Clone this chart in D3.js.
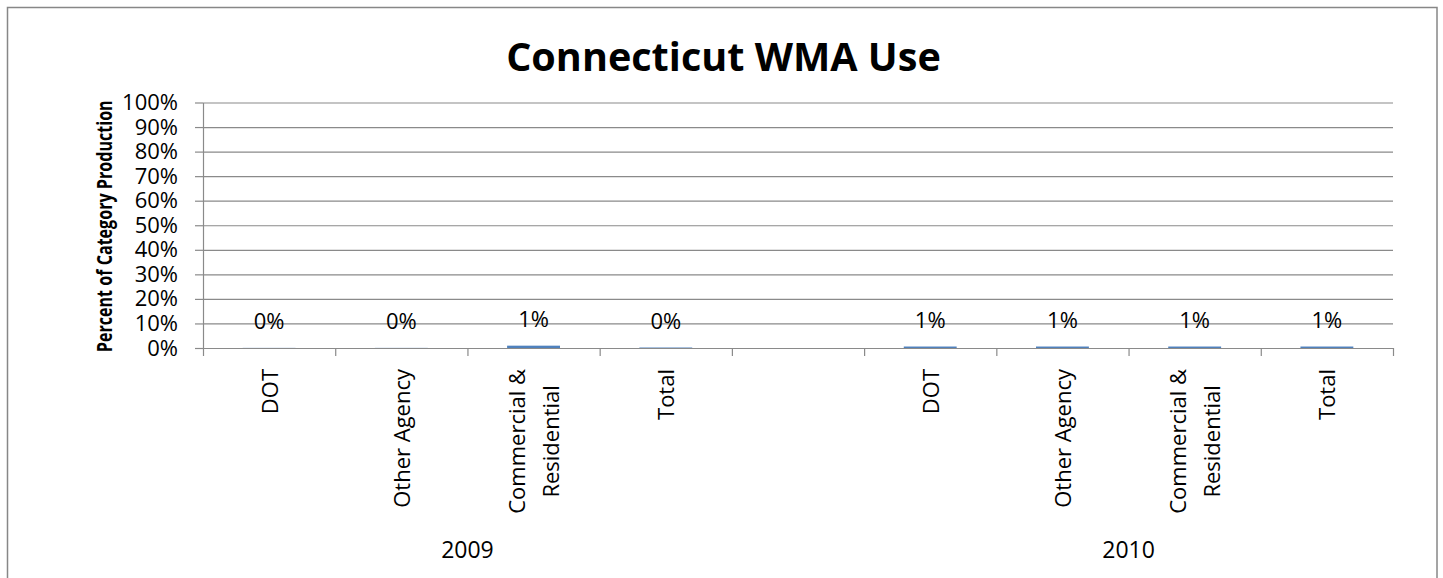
<!DOCTYPE html>
<html><head><meta charset="utf-8">
<script src="https://cdn.jsdelivr.net/npm/d3@7"></script>
<style>html,body{margin:0;padding:0;background:#fff;} svg{display:block;}</style>
</head><body><svg id="chart" width="1443" height="578"></svg>
<script>
// ---------- data ----------
const chartTitle = "Connecticut WMA Use";
const yAxisTitle = "Percent of Category Production";
const years = ["2009", "2010"];
const categories = ["DOT", "Other Agency", "Commercial &\nResidential", "Total"];
const values2009 = [0.0005, 0.0005, 0.0095, 0.002];
const values2010 = [0.006, 0.006, 0.006, 0.006];
const yTicks = [0, 0.1, 0.2, 0.3, 0.4, 0.5, 0.6, 0.7, 0.8, 0.9, 1.0];

// ---------- layout ----------
const W = 1443, H = 578;
const L = 203, R = 1393, T = 102.5, B = 348;
const FONT = "'Open Sans', Lato, 'DejaVu Sans', sans-serif";
const FS = 22;
const GRID = "#8a8a8a";
const BAR = "#4f81bd";

const svg = d3.select("#chart");

// slots: 4 categories for 2009, one empty slot, 4 for 2010
const series = [values2009, values2010];
const slots = [];
years.forEach((yr, gi) => {
  categories.forEach((c, ci) => slots.push({key: yr + "|" + c, year: yr, cat: c, value: series[gi][ci]}));
  if (gi < years.length - 1) slots.push({key: "gap" + gi, year: null, cat: null, value: null});
});

const x = d3.scaleBand().domain(slots.map(d => d.key)).range([L, R]).paddingInner(0).paddingOuter(0);
const xi = d3.scaleLinear().domain([0, slots.length]).range([L, R]);
const y = d3.scaleLinear().domain([0, 1]).range([B, T]);
const pct = d3.format(".0%");

// outer border
svg.append("rect").attr("x", 7.5).attr("y", 7.5).attr("width", 1429.5).attr("height", 580)
  .attr("fill", "#fff").attr("stroke", "#878787").attr("stroke-width", 1.5);

// gridlines
const grid = svg.append("g").attr("transform", `translate(${L},0)`)
  .call(d3.axisLeft(y).tickValues(yTicks.filter(v => v > 0)).tickSize(-(R - L)).tickFormat(""));
grid.select(".domain").remove();
grid.selectAll("line").attr("stroke", GRID).attr("stroke-width", 1.2);

// y axis with outside ticks
const ya = svg.append("g").attr("transform", `translate(${L},0)`)
  .call(d3.axisLeft(y).tickValues(yTicks).tickSizeInner(8).tickSizeOuter(0).tickFormat(""));
ya.select(".domain").attr("stroke", GRID).attr("stroke-width", 1.2);
ya.selectAll("line").attr("stroke", GRID).attr("stroke-width", 1.2);

// y tick labels
svg.append("g").selectAll("text").data(yTicks).join("text")
  .attr("x", 178).attr("y", d => y(d) + 7.5)
  .attr("text-anchor", "end").attr("font-family", FONT).attr("font-size", FS).attr("fill", "#000")
  .text(d => pct(d));

// bars
const bw = x.bandwidth() * 0.4;
svg.append("g").selectAll("rect").data(slots.filter(d => d.value !== null)).join("rect")
  .attr("x", d => x(d.key) + (x.bandwidth() - bw) / 2)
  .attr("y", d => y(d.value))
  .attr("width", bw)
  .attr("height", d => y(0) - y(d.value))
  .attr("fill", BAR);

// x axis
const xa = svg.append("g").attr("transform", `translate(0,${B})`)
  .call(d3.axisBottom(xi).tickValues(d3.range(slots.length + 1)).tickSizeInner(8).tickSizeOuter(0).tickFormat(""));
xa.select(".domain").attr("stroke", GRID).attr("stroke-width", 1.2);
xa.selectAll("line").attr("stroke", GRID).attr("stroke-width", 1.2);

// data labels
svg.append("g").selectAll("text").data(slots.filter(d => d.value !== null)).join("text")
  .attr("x", d => x(d.key) + x.bandwidth() / 2).attr("y", d => y(d.value) - 19)
  .attr("text-anchor", "middle").attr("font-family", FONT).attr("font-size", FS).attr("fill", "#000")
  .text(d => pct(d.value));

// category labels (rotated, possibly multi-line, block end at y=369)
const catG = svg.append("g");
slots.filter(d => d.cat !== null).forEach(d => {
  const lines = d.cat.split("\n");
  const cx = x(d.key) + x.bandwidth() / 2;
  const tmp = lines.map(l => catG.append("text").attr("font-family", FONT).attr("font-size", FS).text(l));
  const maxLen = d3.max(tmp, t => t.node().getComputedTextLength());
  const yc = 369 + maxLen / 2;
  tmp.forEach((t, i) => {
    const bx = cx + 8.5 + (i - (lines.length - 1) / 2) * 33.4;
    t.attr("transform", `translate(${bx},${yc}) rotate(-90)`)
     .attr("text-anchor", "middle").attr("fill", "#000");
  });
});

// year group labels
years.forEach(yr => {
  const keys = slots.filter(d => d.year === yr).map(d => d.key);
  const x0 = x(keys[0]), x1 = x(keys[keys.length - 1]) + x.bandwidth();
  svg.append("text").attr("x", (x0 + x1) / 2).attr("y", 558)
    .attr("text-anchor", "middle").attr("font-family", FONT).attr("font-size", 23).attr("fill", "#000")
    .text(yr);
});

// y axis title (condensed bold, like the original)
const yt = svg.append("text")
  .attr("text-anchor", "middle").attr("font-family", FONT).attr("font-weight", "bold")
  .attr("font-size", 20.5).attr("fill", "#000").text(yAxisTitle);
const ytLen = yt.node().getComputedTextLength();
const ytK = 252 / ytLen;
yt.attr("transform", `translate(112,${(T + B) / 2 + 1}) rotate(-90) scale(${ytK},1)`);

// chart title
svg.append("text").attr("x", 723.5).attr("y", 71)
  .attr("text-anchor", "middle").attr("font-family", FONT).attr("font-weight", "bold")
  .attr("font-size", 39.6).attr("fill", "#000").text(chartTitle);
</script>
</body></html>
